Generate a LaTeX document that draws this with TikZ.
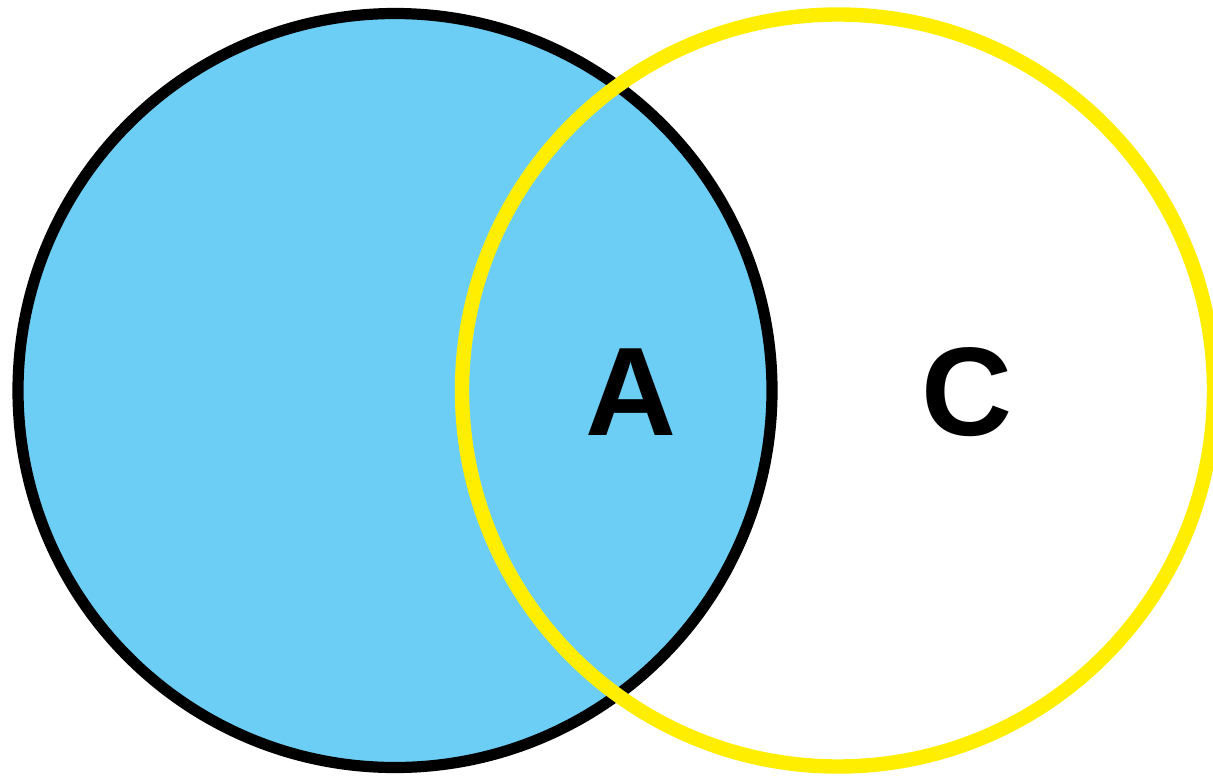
\documentclass[tikz,border=0pt]{standalone}
\usepackage{fontspec}
\setmainfont{Liberation Sans}
\usepackage{tikz}
\usetikzlibrary{positioning}

\definecolor{mengdeblaa}{RGB}{109,206,245}
\definecolor{mengdegul}{RGB}{255,238,0}

\begin{document}
\begin{tikzpicture}[x=0.5pt,y=-0.5pt]
    % Ramme
    \useasboundingbox (0,0) rectangle (1213,776);
    % Venstre maengde (fyldt)
    \coordinate (VA) at (395,390.5);
    \filldraw[fill=mengdeblaa,draw=black,line width=5.6pt] (VA) circle (377);
    % Hoejre maengde (kun kant)
    \coordinate (HC) at (838,390.5);
    \draw[mengdegul,line width=7.2pt] (HC) circle (376);
    % Bogstaver
    \node[font=\fontsize{63}{63}\selectfont\bfseries] (A) at (631,392) {A};
    \node[font=\fontsize{63}{63}\selectfont\bfseries] (C) at (967,392) {C};
  \end{tikzpicture}
\end{document}
